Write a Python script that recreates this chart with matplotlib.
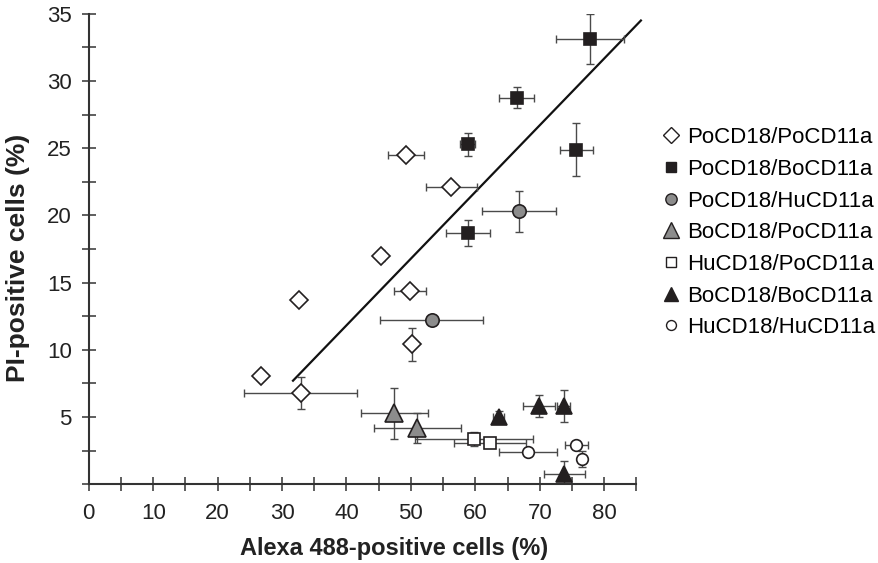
import matplotlib
matplotlib.use("Agg")
import matplotlib.pyplot as plt
from matplotlib.ticker import MultipleLocator

plt.rcParams['font.family'] = ['Liberation Sans', 'DejaVu Sans']

# ---- data ----
po_po_x = [49.2, 56.3, 45.4, 32.6, 49.8, 50.2, 26.8, 32.9]
po_po_y = [24.5, 22.1, 17.0, 13.7, 14.4, 10.4, 8.06, 6.77]
po_po_xerr = [2.8, 4.0, 0.5, 0.0, 2.5, 0.0, 0.5, 8.8]
po_po_yerr = [0.0, 0.0, 0.4, 0.0, 0.3, 1.2, 0.3, 1.2]

po_bo_x = [77.8, 66.4, 58.8, 75.7, 58.9]
po_bo_y = [33.1, 28.77, 25.3, 24.9, 18.7]
po_bo_xerr = [5.3, 2.7, 1.2, 2.5, 3.4]
po_bo_yerr = [1.85, 0.78, 0.85, 1.95, 0.95]

po_hu_x = [66.8, 53.2]
po_hu_y = [20.3, 12.2]
po_hu_xerr = [5.7, 8.0]
po_hu_yerr = [1.55, 0.0]

bo_po_x = [47.4, 51.0]
bo_po_y = [5.28, 4.2]
bo_po_xerr = [5.2, 6.8]
bo_po_yerr = [1.9, 1.1]

hu_po_x = [59.8, 62.3]
hu_po_y = [3.35, 3.1]
hu_po_xerr = [9.1, 5.6]
hu_po_yerr = [0.5, 0.3]

bo_bo_x = [63.6, 69.9, 73.7, 73.8]
bo_bo_y = [5.03, 5.83, 5.83, 0.74]
bo_bo_xerr = [0.8, 2.5, 1.0, 3.2]
bo_bo_yerr = [0.4, 0.8, 1.2, 0.95]

hu_hu_x = [68.2, 75.7, 76.6]
hu_hu_y = [2.4, 2.92, 1.9]
hu_hu_xerr = [4.5, 1.8, 0.5]
hu_hu_yerr = [0.2, 0.3, 0.6]

fit_x = [31.7, 85.7]
fit_y = [7.7, 34.5]

labels = ["PoCD18/PoCD11a", "PoCD18/BoCD11a", "PoCD18/HuCD11a", "BoCD18/PoCD11a",
          "HuCD18/PoCD11a", "BoCD18/BoCD11a", "HuCD18/HuCD11a"]

x_ticks = [0, 10, 20, 30, 40, 50, 60, 70, 80]
y_ticks = [5, 10, 15, 20, 25, 30, 35]

# ---- figure ----
fig = plt.figure(figsize=(8.79, 5.63), dpi=100)
ax = fig.add_axes([0.101, 0.140, 0.623, 0.8355])

axis_col = '#333333'
err_col = '#4a4a4a'
edge = '#231f20'
black = '#231f20'
grey = '#8c8c8c'

series = [
    (po_po_x, po_po_y, po_po_xerr, po_po_yerr, dict(marker='D', ms=9.2, mfc='white', mec=edge)),
    (po_bo_x, po_bo_y, po_bo_xerr, po_bo_yerr, dict(marker='s', ms=8.6, mfc=black, mec=black)),
    (po_hu_x, po_hu_y, po_hu_xerr, po_hu_yerr, dict(marker='o', ms=9.6, mfc=grey, mec=edge)),
    (bo_po_x, bo_po_y, bo_po_xerr, bo_po_yerr, dict(marker='^', ms=13, mfc=grey, mec=edge)),
    (hu_po_x, hu_po_y, hu_po_xerr, hu_po_yerr, dict(marker='s', ms=8, mfc='white', mec=edge)),
    (bo_bo_x, bo_bo_y, bo_bo_xerr, bo_bo_yerr, dict(marker='^', ms=12, mfc=black, mec=black)),
    (hu_hu_x, hu_hu_y, hu_hu_xerr, hu_hu_yerr, dict(marker='o', ms=8.4, mfc='white', mec=edge)),
]

for (x, y, xe, ye, st) in series:
    ax.errorbar(x, y, xerr=xe, yerr=ye, fmt='none', ecolor=err_col,
                elinewidth=1.0, capsize=2.8, capthick=1.0, zorder=2)
    ax.plot(x, y, linestyle='none', mew=1.2, zorder=3, **st)

ax.plot(fit_x, fit_y, color='#111111', lw=1.6, zorder=1, clip_on=False)

ax.set_xlim(0, 85)
ax.set_ylim(0, 35)
for s in ['top', 'right']:
    ax.spines[s].set_visible(False)
for s in ['left', 'bottom']:
    ax.spines[s].set_color(axis_col)
    ax.spines[s].set_linewidth(1.5)

ax.set_xticks(x_ticks)
ax.set_yticks(y_ticks)
ax.xaxis.set_minor_locator(MultipleLocator(5))
ax.yaxis.set_minor_locator(MultipleLocator(2.5))
ax.tick_params(which='both', direction='inout', color=axis_col, width=1.1, length=10.5)
ax.tick_params(which='major', labelsize=16, labelcolor='#222222')
ax.tick_params(axis='x', which='major', pad=8)
ax.tick_params(axis='y', which='major', pad=7)

ax.set_xlabel("Alexa 488-positive cells (%)", fontsize=17, fontweight='bold', color='#222222')
ax.set_ylabel("PI-positive cells (%)", fontsize=19, fontweight='bold', color='#222222')
ax.xaxis.set_label_coords(0.557, -0.112)
ax.yaxis.set_label_coords(-0.108, 0.481)

# legend
handles = []
for (x, y, xe, ye, st), lab in zip(series, labels):
    st2 = dict(st)
    st2['ms'] = st2['ms'] * 0.85
    h, = ax.plot([], [], linestyle='none', mew=1.0, label=lab, **st2)
    handles.append(h)
fig.legend(handles=handles, loc='upper left', bbox_to_anchor=(0.751, 0.774),
           frameon=False, fontsize=16, handletextpad=0.2, labelspacing=0.48,
           handlelength=1.0, borderaxespad=0, borderpad=0)

fig.savefig("out.png", dpi=100)
